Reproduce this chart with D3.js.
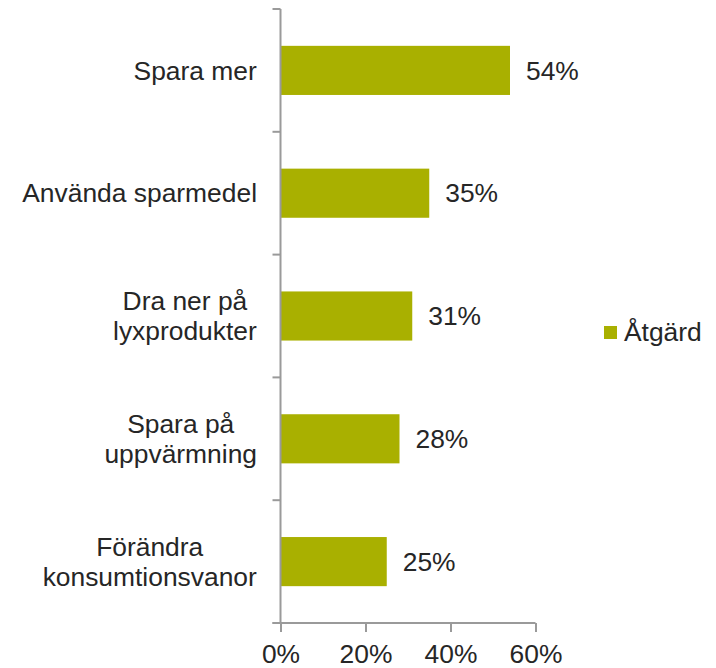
<!DOCTYPE html>
<html>
<head>
<meta charset="utf-8">
<script src="https://cdn.jsdelivr.net/npm/d3@7"></script>
<style>
  body { margin: 0; background: #fff; }
  text { font-family: "Liberation Sans", Arial, sans-serif; fill: #262626; }
</style>
</head>
<body>
<div id="chart"></div>
<script>
// data
var categories = [
  ["Spara mer"],
  ["Använda sparmedel"],
  ["Dra ner på", "lyxprodukter"],
  ["Spara på", "uppvärmning"],
  ["Förändra", "konsumtionsvanor"]
];
var values = [54, 35, 31, 28, 25];
var xTicks = [0, 20, 40, 60];
var seriesName = "Åtgärd";

var barColor = "#a9b000";
var axisColor = "#9a9a9a";
var fontSize = "26.4px";

var W = 716, H = 668;
var margin = { top: 9, left: 280.5, right: 180.5, bottom: 45 };
var width = W - margin.left - margin.right;
var height = H - margin.top - margin.bottom;

var svg = d3.select("#chart")
  .append("svg")
  .attr("width", W)
  .attr("height", H);

var g = svg.append("g")
  .attr("transform", "translate(" + margin.left + "," + margin.top + ")");

var x = d3.scaleLinear().domain([0, 60]).range([0, width]);
var idx = d3.range(categories.length);
var y = d3.scaleBand().domain(idx).range([0, height]).paddingInner(0.6).paddingOuter(0.3);
var yEdge = d3.scaleLinear().domain([0, categories.length]).range([0, height]);

// bars
g.selectAll(".bar")
  .data(values)
  .enter()
  .append("rect")
  .attr("class", "bar")
  .attr("x", 0)
  .attr("y", function (d, i) { return y(i); })
  .attr("width", function (d) { return x(d); })
  .attr("height", y.bandwidth())
  .attr("fill", barColor);

// value labels
g.selectAll(".val")
  .data(values)
  .enter()
  .append("text")
  .attr("class", "val")
  .attr("x", function (d) { return x(d) + 16; })
  .attr("y", function (d, i) { return y(i) + y.bandwidth() / 2; })
  .attr("dy", "0.35em")
  .style("font-size", fontSize)
  .text(function (d) { return d + "%"; });

// y axis line and ticks at category boundaries
g.append("line")
  .attr("x1", 0).attr("x2", 0)
  .attr("y1", 0).attr("y2", height)
  .attr("stroke", axisColor).attr("stroke-width", 2);

g.selectAll(".ytick")
  .data(d3.range(categories.length + 1))
  .enter()
  .append("line")
  .attr("class", "ytick")
  .attr("x1", -8).attr("x2", 0)
  .attr("y1", function (d) { return yEdge(d); })
  .attr("y2", function (d) { return yEdge(d); })
  .attr("stroke", axisColor).attr("stroke-width", 2);

// category labels
var labels = g.selectAll(".cat")
  .data(categories)
  .enter()
  .append("text")
  .attr("class", "cat")
  .attr("text-anchor", "middle")
  .style("font-size", fontSize)
  .attr("y", function (d, i) { return y(i) + y.bandwidth() / 2; });

labels.each(function (lines) {
  var t = d3.select(this);
  var n = lines.length;
  lines.forEach(function (line, j) {
    t.append("tspan")
      .attr("x", 0)
      .attr("dy", j === 0 ? (0.35 - (n - 1) * 0.575) + "em" : "1.15em")
      .text(line);
  });
});
// right-align each label block at x = -24, lines centered within the block
labels.each(function () {
  var bb = this.getBBox();
  var shift = -23.5 - (bb.x + bb.width);
  d3.select(this).selectAll("tspan").attr("x", shift);
});

// x axis
var xAxis = g.append("g")
  .attr("transform", "translate(0," + height + ")")
  .call(d3.axisBottom(x).tickValues(xTicks).tickSize(9).tickFormat(function (d) { return d + "%"; }));
xAxis.select(".domain").remove();
xAxis.append("line")
  .attr("x1", -8).attr("x2", width)
  .attr("stroke", axisColor).attr("stroke-width", 2);
xAxis.selectAll(".tick line").attr("stroke", axisColor).attr("stroke-width", 2);
xAxis.selectAll(".tick text")
  .attr("y", 21)
  .attr("dy", "0.71em")
  .style("font-size", fontSize)
  .style("font-family", "'Liberation Sans', Arial, sans-serif")
  .attr("fill", "#262626");

// legend
var legend = svg.append("g")
  .attr("transform", "translate(604,326)");
legend.append("rect")
  .attr("width", 13).attr("height", 13)
  .attr("fill", barColor);
legend.append("text")
  .attr("x", 20).attr("y", 15)
  .style("font-size", fontSize)
  .text(seriesName);
</script>
</body>
</html>
